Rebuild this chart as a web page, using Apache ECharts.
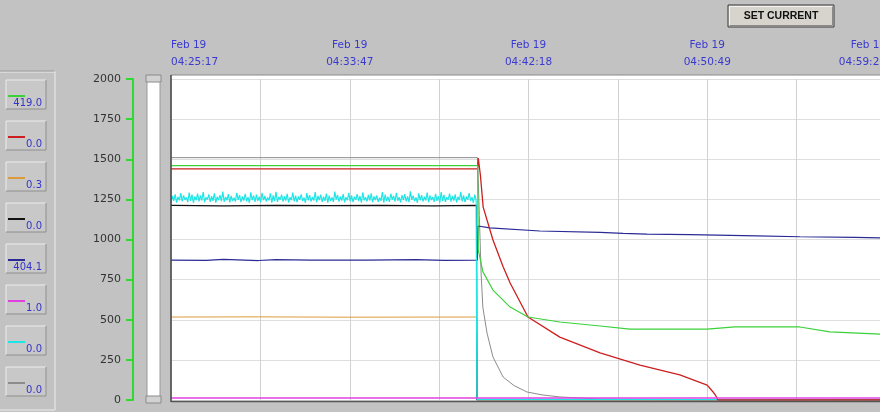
<!DOCTYPE html>
<html>
<head>
<meta charset="utf-8">
<script src="https://cdn.jsdelivr.net/npm/echarts@6/dist/echarts.min.js"></script>
<style>
  html, body { margin: 0; padding: 0; background: #c2c2c2; }
  #chart { width: 880px; height: 412px; }
</style>
</head>
<body>
<div id="chart"></div>
<script>
// time axis in seconds from Feb 19 04:25:17
var xMax = 2043;
var xStep = xMax / 8;
var xTickLabels = [
  ['Feb 19', '04:25:17'],
  ['Feb 19', '04:33:47'],
  ['Feb 19', '04:42:18'],
  ['Feb 19', '04:50:49'],
  ['Feb 19', '04:59:20']
];

var seriesNames = ['green', 'red', 'orange', 'black', 'blue', 'magenta', 'cyan', 'gray'];
var seriesColors = ['#3ad13a', '#cc1f1f', '#dc9a3a', '#111111', '#2b2b96', '#e040e0', '#1ee6e6', '#8c8c8c'];
var currentValues = ['419.0', '0.0', '0.3', '0.0', '404.1', '1.0', '0.0', '0.0'];

var greenPts = [[0,1460],[876,1460],[878,935],[891,800],[920,685],[969,579],[1020,517],[1111,486],
  [1226,461],[1311,442],[1532,442],[1611,455],[1797,455],[1883,424],[2026,411],[2043,405]];
var redPts = [[0,1440],[876,1440],[878,1508],[884,1402],[892,1202],[920,997],[949,830],[969,729],
  [1020,517],[1111,392],[1226,293],[1340,218],[1454,156],[1532,93],[1549,50],[1557,25],[1563,0],[2043,0]];
var orangePts = [[0,517],[250,518],[500,516],[873,517],[874,0],[2043,0]];
var blackPts = [[0,1212],[150,1210],[300,1213],[450,1211],[600,1212],[750,1210],[873,1212],[874,0],[2043,0]];
var bluePts = [[0,872],[100,870],[150,876],[250,869],[300,874],[400,871],[560,872],[700,875],[780,870],
  [875,872],[877,1084],[911,1072],[1054,1053],[1226,1045],[1292,1038],[1360,1034],[1483,1030],
  [1674,1022],[1797,1017],[1954,1013],[2043,1010]];
var magentaPts = [[0,12],[2043,12]];
var grayPts = [[0,1510],[876,1510],[881,1150],[886,791],[891,579],[903,417],[920,268],[949,143],
  [980,90],[1017,50],[1060,32],[1111,19],[1226,6],[1400,2],[1600,0],[2043,0]];

// cyan noisy signal, one value every 4 s up to the drop
var cyanStep = 4;
var cyanValues = [
  1236,1271,1241,1282,1230,1266,1244,1289,1238,1275,1247,1262,1233,1293,1240,1279,1229,1268,1245,1286,
  1237,1274,1243,1296,1232,1263,1248,1281,1235,1270,1241,1288,1230,1267,1246,1277,1239,1299,1234,1265,
  1244,1283,1231,1272,1240,1260,1236,1291,1247,1276,1233,1269,1242,1285,1238,1264,1229,1294,1245,1273,
  1235,1280,1241,1267,1232,1290,1246,1271,1237,1262,1243,1287,1230,1275,1239,1297,1234,1266,1248,1279,
  1236,1270,1242,1284,1231,1263,1245,1292,1238,1274,1233,1268,1247,1281,1240,1261,1229,1289,1244,1276,
  1237,1265,1243,1295,1232,1272,1246,1280,1235,1267,1241,1286,1230,1273,1239,1262,1234,1298,1248,1277,
  1236,1269,1242,1283,1231,1264,1245,1290,1238,1275,1233,1266,1247,1282,1240,1271,1229,1293,1244,1263,
  1237,1278,1243,1287,1232,1268,1246,1274,1235,1260,1241,1296,1230,1279,1239,1266,1234,1285,1248,1272,
  1236,1291,1242,1264,1231,1276,1245,1283,1238,1269,1233,1300,1247,1273,1240,1262,1229,1288,1244,1277,
  1237,1267,1243,1292,1232,1274,1246,1265,1235,1284,1241,1270,1230,1295,1239,1278,1234,1263,1248,1286,
  1236,1272,1242,1281,1231,1266,1245,1297,1238,1275,1233,1268,1247,1289,1240,1264,1229,1280,1244
];
var cyanAfter = [[874,4],[1370,4],[1372,0],[2043,0]];

var cyanPts = cyanValues.map(function (v, i) { return [i * cyanStep, v]; }).concat(cyanAfter);

var chart = echarts.init(document.getElementById('chart'));

function line(name, data, color, width) {
  return {
    name: name, type: 'line', data: data, symbol: 'none',
    lineStyle: { color: color, width: width || 1 }
  };
}

// left legend panel boxes
var panel = [];
var boxTop = 80, boxGap = 41;
seriesNames.forEach(function (n, i) {
  var t = boxTop + i * boxGap;
  panel.push({ type: 'rect', shape: { x: 6, y: t, width: 40, height: 29 }, style: { fill: '#c8c8c8', stroke: null } });
  panel.push({ type: 'polyline', shape: { points: [[6, t + 29], [6, t], [46, t]] }, style: { stroke: '#ececec', fill: null, lineWidth: 1 } });
  panel.push({ type: 'polyline', shape: { points: [[46, t], [46, t + 29], [6, t + 29]] }, style: { stroke: '#8e8e8e', fill: null, lineWidth: 1 } });
  panel.push({ type: 'line', shape: { x1: 8, y1: t + 16, x2: 25, y2: t + 16 }, style: { stroke: seriesColors[i], lineWidth: 2 } });
  panel.push({ type: 'text', x: 42, y: t + 23, style: { text: currentValues[i], align: 'right', verticalAlign: 'middle', fill: '#3434c8', font: '10px "DejaVu Sans"' } });
});

var option = {
  backgroundColor: '#c2c2c2',
  animation: false,
  grid: { left: 171, top: 79, width: 715, height: 321, outerBoundsMode: 'none', containLabel: false },
  xAxis: {
    type: 'value', position: 'top', min: 0, max: xMax, interval: xStep,
    axisLine: { show: false }, axisTick: { show: false },
    splitLine: { show: true, lineStyle: { color: '#d2d2d2', width: 1 } },
    axisLabel: {
      margin: 8, color: '#3a3ad0', fontFamily: 'DejaVu Sans', fontSize: 10.5, lineHeight: 17,
      showMinLabel: true, showMaxLabel: true, alignMinLabel: 'left', alignMaxLabel: 'right',
      formatter: function (v) {
        var idx = Math.round(v / xStep);
        if (idx % 2) return '';
        var l = xTickLabels[idx / 2];
        return l ? l[0] + '\n' + l[1] : '';
      }
    }
  },
  yAxis: {
    type: 'value', min: 0, max: 2000, interval: 250, offset: 38,
    axisLine: { show: true, onZero: false, lineStyle: { color: '#2fd92f', width: 2 } },
    axisTick: { show: true, length: 7, lineStyle: { color: '#2fd92f', width: 2 } },
    axisLabel: { color: '#333', fontFamily: 'DejaVu Sans', fontSize: 11, margin: 12,
      formatter: function (v) { return String(v); } },
    splitLine: { show: true, lineStyle: { color: '#dedede' } }
  },
  series: [
    line('gray', grayPts, '#8c8c8c', 1),
    line('orange', orangePts, '#dc9a3a', 1),
    line('black', blackPts, '#111111', 1.2),
    line('blue', bluePts, '#2b2b96', 1.2),
    line('cyan', cyanPts, '#1ee6e6', 1.2),
    line('red', redPts, '#cc1f1f', 1.3),
    line('green', greenPts, '#3ad13a', 1.2),
    line('magenta', magentaPts, '#e040e0', 1.5)
  ],
  graphic: [
    // plot background
    { type: 'rect', z: -1, shape: { x: 171, y: 75, width: 720, height: 327 }, style: { fill: '#ffffff' } },
    // plot frame
    { type: 'line', z: 100, shape: { x1: 171, y1: 75, x2: 880, y2: 75 }, style: { stroke: '#8a8a8a', lineWidth: 1 } },
    { type: 'line', z: 100, shape: { x1: 171, y1: 75, x2: 171, y2: 402 }, style: { stroke: '#444', lineWidth: 1.5 } },
    { type: 'line', z: 100, shape: { x1: 171, y1: 401.5, x2: 880, y2: 401.5 }, style: { stroke: '#555', lineWidth: 1.5 } },
    // scroll bar
    { type: 'rect', shape: { x: 147, y: 80, width: 13, height: 318 }, style: { fill: '#ffffff', stroke: '#9a9a9a' } },
    { type: 'rect', shape: { x: 146, y: 75, width: 15, height: 7 }, style: { fill: '#d2d2d2', stroke: '#8a8a8a' } },
    { type: 'rect', shape: { x: 146, y: 396, width: 15, height: 7 }, style: { fill: '#d2d2d2', stroke: '#8a8a8a' } },
    // left panel frame
    { type: 'polyline', shape: { points: [[0, 72], [55, 72], [55, 410], [0, 410]] }, style: { stroke: '#ededed', fill: null, lineWidth: 1 } },
    { type: 'polyline', shape: { points: [[0, 71], [54, 71]] }, style: { stroke: '#9a9a9a', fill: null, lineWidth: 1 } },
    // button
    { type: 'rect', shape: { x: 728, y: 5, width: 106, height: 22 }, style: { fill: '#d7d4ce', stroke: '#3a3a3a', lineWidth: 1 } },
    { type: 'polyline', shape: { points: [[729.5, 25.5], [729.5, 6.5], [832.5, 6.5]] }, style: { stroke: '#f4f4f4', fill: null } },
    { type: 'polyline', shape: { points: [[832.5, 6.5], [832.5, 25.5], [729.5, 25.5]] }, style: { stroke: '#8a8a8a', fill: null } },
    { type: 'text', x: 781, y: 16, style: { text: 'SET CURRENT', align: 'center', verticalAlign: 'middle', fill: '#111', font: 'bold 10.5px "Liberation Sans"' } }
  ].concat(panel)
};

chart.setOption(option);
</script>
</body>
</html>
